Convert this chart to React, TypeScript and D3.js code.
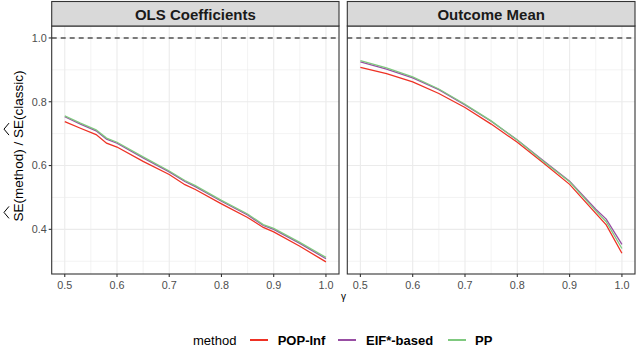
import React, { useLayoutEffect, useRef, useState } from 'react';
import * as d3 from 'd3';

const width = 636;
const height = 346;
const font = '"Liberation Sans", Arial, sans-serif';

const panels = ['OLS Coefficients', 'Outcome Mean'];
const methods = ['POP-Inf', 'EIF*-based', 'PP'];
const colors = ['#EE3124', '#984EA3', '#7FC97F'];

const xTicks = [0.5, 0.6, 0.7, 0.8, 0.9, 1.0];
const xMinor = [0.55, 0.65, 0.75, 0.85, 0.95];
const yTicks = [0.4, 0.6, 0.8, 1.0];
const yMinor = [0.3, 0.5, 0.7, 0.9];

// OLS Coefficients panel
const olsGamma = [0.5, 0.53, 0.56, 0.58, 0.6, 0.65, 0.7, 0.73, 0.75, 0.8, 0.85, 0.88, 0.9, 0.95, 1.0];
const olsPopInf = [0.738, 0.717, 0.697, 0.67, 0.658, 0.613, 0.572, 0.54, 0.525, 0.48, 0.437, 0.406, 0.392, 0.347, 0.298];
const olsEif = [0.753, 0.73, 0.709, 0.683, 0.67, 0.624, 0.58, 0.55, 0.534, 0.488, 0.445, 0.412, 0.4, 0.356, 0.308];
const olsPP = [0.756, 0.733, 0.712, 0.686, 0.673, 0.627, 0.583, 0.553, 0.537, 0.491, 0.448, 0.415, 0.403, 0.359, 0.312];

// Outcome Mean panel
const meanGamma = [0.5, 0.55, 0.6, 0.65, 0.7, 0.75, 0.8, 0.85, 0.9, 0.95, 0.97, 1.0];
const meanPopInf = [0.908, 0.888, 0.862, 0.826, 0.782, 0.73, 0.673, 0.608, 0.541, 0.45, 0.414, 0.325];
const meanEif = [0.925, 0.902, 0.875, 0.838, 0.79, 0.739, 0.68, 0.615, 0.551, 0.463, 0.432, 0.353];
const meanPP = [0.929, 0.906, 0.878, 0.84, 0.792, 0.74, 0.68, 0.613, 0.549, 0.458, 0.424, 0.34];

const panelData = [
  { gamma: olsGamma, series: [olsPopInf, olsEif, olsPP] },
  { gamma: meanGamma, series: [meanPopInf, meanEif, meanPP] },
];

const panelX = [
  [51.7, 339],
  [347.3, 635],
];
const plotTop = 26;
const plotBottom = 274;
const stripTop = 1.5;

const yScale = d3.scaleLinear().domain([0.26, 1.0375]).range([plotBottom, plotTop]);

const yLabel = 'SE(method) / SE(classic)';

function Panel({ idx }: { idx: number }) {
  const [x0, x1] = panelX[idx];
  const xScale = d3.scaleLinear().domain([0.475, 1.025]).range([x0, x1]);
  const { gamma, series } = panelData[idx];
  const line = d3
    .line<number>()
    .x((_, i) => xScale(gamma[i]))
    .y((d) => yScale(d));

  return (
    <g>
      <rect x={x0} y={plotTop} width={x1 - x0} height={plotBottom - plotTop} fill="#fff" />
      {xMinor.map((t) => (
        <line key={'xm' + t} x1={xScale(t)} x2={xScale(t)} y1={plotTop} y2={plotBottom} stroke="#EBEBEB" strokeWidth={0.6} />
      ))}
      {yMinor.map((t) => (
        <line key={'ym' + t} x1={x0} x2={x1} y1={yScale(t)} y2={yScale(t)} stroke="#EBEBEB" strokeWidth={0.6} />
      ))}
      {xTicks.map((t) => (
        <line key={'x' + t} x1={xScale(t)} x2={xScale(t)} y1={plotTop} y2={plotBottom} stroke="#EBEBEB" strokeWidth={1.1} />
      ))}
      {yTicks.map((t) => (
        <line key={'y' + t} x1={x0} x2={x1} y1={yScale(t)} y2={yScale(t)} stroke="#EBEBEB" strokeWidth={1.1} />
      ))}
      <line x1={x0} x2={x1} y1={yScale(1)} y2={yScale(1)} stroke="#000" strokeWidth={1.1} strokeDasharray="5,4" />
      {series.map((s, i) => (
        <path key={i} d={line(s) || ''} fill="none" stroke={colors[i]} strokeWidth={1.3} />
      ))}
      <rect x={x0} y={plotTop} width={x1 - x0} height={plotBottom - plotTop} fill="none" stroke="#333" strokeWidth={1.1} />
      <rect x={x0} y={stripTop} width={x1 - x0} height={plotTop - stripTop} fill="#D9D9D9" stroke="#333" strokeWidth={1.1} />
      <text x={(x0 + x1) / 2} y={19.5} textAnchor="middle" fontFamily={font} fontWeight="bold" fontSize={15} fill="#1A1A1A">
        {panels[idx]}
      </text>
      {xTicks.map((t) => (
        <g key={'xt' + t}>
          <line x1={xScale(t)} x2={xScale(t)} y1={plotBottom} y2={plotBottom + 3} stroke="#333" strokeWidth={1.1} />
          <text x={xScale(t)} y={289} textAnchor="middle" fontFamily={font} fontSize={10.8} fill="#4D4D4D">
            {t.toFixed(1)}
          </text>
        </g>
      ))}
      {idx === 0 &&
        yTicks.map((t) => (
          <g key={'yt' + t}>
            <line x1={x0 - 3} x2={x0} y1={yScale(t)} y2={yScale(t)} stroke="#333" strokeWidth={1.1} />
            <text x={x0 - 5} y={yScale(t) + 3.8} textAnchor="end" fontFamily={font} fontSize={10.8} fill="#4D4D4D">
              {t.toFixed(1)}
            </text>
          </g>
        ))}
    </g>
  );
}

export default function App() {
  const textRef = useRef<SVGTextElement>(null);
  const [hats, setHats] = useState<number[]>([]);

  useLayoutEffect(() => {
    const el = textRef.current;
    if (!el) return;
    const second = yLabel.indexOf('SE', 2);
    const centers = [0, second].map((i) => {
      const a = el.getStartPositionOfChar(i).x;
      const b = el.getEndPositionOfChar(i + 1).x;
      return (a + b) / 2;
    });
    setHats(centers);
  }, []);

  const legendY = 340;
  const legendLines = [250, 338, 448];
  const legendText = [277.7, 366, 475];

  return (
    <svg width={width} height={height} style={{ position: 'absolute', left: 0, top: 0 }}>
      <rect width={width} height={height} fill="#fff" />
      {panels.map((_, i) => (
        <Panel key={i} idx={i} />
      ))}
      <g transform={`translate(22.5, ${(plotTop + plotBottom) / 2 - 4}) rotate(-90)`}>
        <text ref={textRef} x={0} y={0} textAnchor="middle" fontFamily={font} fontSize={13.5} fill="#000">
          {yLabel}
        </text>
        {hats.map((h, i) => (
          <path key={i} d={`M${h - 6},-13.5 L${h},-18.5 L${h + 6},-13.5`} fill="none" stroke="#000" strokeWidth={1} />
        ))}
      </g>
      <text x={343.4} y={300} textAnchor="middle" fontFamily={font} fontSize={10} fill="#000">
        γ
      </text>
      <text x={193} y={legendY + 4.5} fontFamily={font} fontSize={13} fill="#000">
        method
      </text>
      {methods.map((m, i) => (
        <g key={m}>
          <line x1={legendLines[i]} x2={legendLines[i] + 18} y1={legendY} y2={legendY} stroke={colors[i]} strokeWidth={2} />
          <text x={legendText[i]} y={legendY + 4.5} fontFamily={font} fontSize={13} fontWeight="bold" fill="#000">
            {m}
          </text>
        </g>
      ))}
    </svg>
  );
}
